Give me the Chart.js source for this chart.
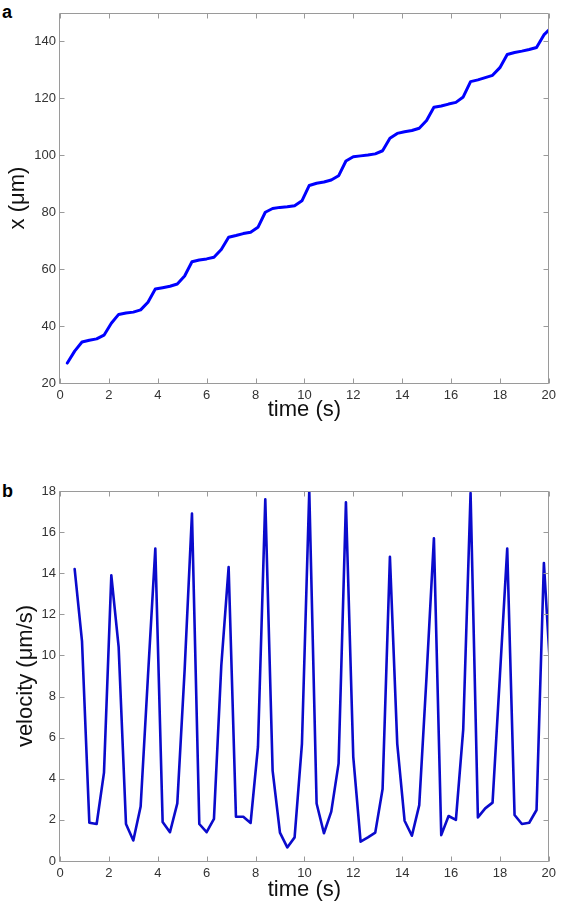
<!DOCTYPE html>
<html>
<head>
<meta charset="utf-8">
<script src="https://cdn.jsdelivr.net/npm/chart.js@4.4.1/dist/chart.umd.min.js"></script>
<style>
  html,body{margin:0;padding:0;background:#fff;}
  body{width:561px;height:903px;position:relative;overflow:hidden;font-family:"Liberation Sans",Arial,sans-serif;}
  .lbl{position:absolute;font:bold 18px "Liberation Sans",Arial,sans-serif;line-height:18px;color:#000;}
  canvas{position:absolute;left:0;}
</style>
</head>
<body>
<div class="lbl" style="left:2px;top:3px;">a</div>
<div class="lbl" style="left:2px;top:482px;">b</div>
<canvas id="c1" width="561" height="430" style="top:0;"></canvas>
<canvas id="c2" width="561" height="433" style="top:470px;"></canvas>
<script>
// ---- data ----
const posTime = [0.3,0.6,0.9,1.2,1.5,1.8,2.1,2.4,2.7,3.0,3.3,3.6,3.9,4.2,4.5,4.8,5.1,5.4,5.7,6.0,6.3,6.6,6.9,7.2,7.5,7.8,8.1,8.4,8.7,9.0,9.3,9.6,9.9,10.2,10.5,10.8,11.1,11.4,11.7,12.0,12.3,12.6,12.9,13.2,13.5,13.8,14.1,14.4,14.7,15.0,15.3,15.6,15.9,16.2,16.5,16.8,17.1,17.4,17.7,18.0,18.3,18.6,18.9,19.2,19.5,19.8,20.1];
const posValues = [27.0,31.2,34.4,35.0,35.5,36.8,41.0,44.1,44.6,44.9,45.7,48.4,53.0,53.5,54.0,54.8,57.6,62.6,63.2,63.6,64.2,66.9,71.2,71.8,72.5,73.0,74.7,80.0,81.3,81.7,81.9,82.3,84.0,89.4,90.2,90.6,91.3,92.8,98.0,99.5,99.8,100.1,100.5,101.6,106.0,107.7,108.3,108.7,109.5,112.2,116.9,117.3,118.0,118.6,120.5,125.9,126.5,127.3,128.1,130.8,135.4,136.1,136.6,137.2,137.9,142.3,144.8];

const velTime = [0.6,0.9,1.2,1.5,1.8,2.1,2.4,2.7,3.0,3.3,3.6,3.9,4.2,4.5,4.8,5.1,5.4,5.7,6.0,6.3,6.6,6.9,7.2,7.5,7.8,8.1,8.4,8.7,9.0,9.3,9.6,9.9,10.2,10.5,10.8,11.1,11.4,11.7,12.0,12.3,12.6,12.9,13.2,13.5,13.8,14.1,14.4,14.7,15.0,15.3,15.6,15.9,16.2,16.5,16.8,17.1,17.4,17.7,18.0,18.3,18.6,18.9,19.2,19.5,19.8,20.1];
const velValues = [14.2,10.7,1.86,1.8,4.3,13.9,10.4,1.8,1.0,2.65,9.0,15.2,1.9,1.4,2.8,9.3,16.9,1.8,1.4,2.05,9.5,14.3,2.15,2.15,1.85,5.55,17.6,4.4,1.38,0.66,1.15,5.7,18.0,2.8,1.35,2.4,4.75,17.45,5.07,0.94,1.15,1.38,3.5,14.8,5.7,1.96,1.23,2.72,9.0,15.7,1.26,2.19,2.0,6.4,17.9,2.12,2.56,2.84,9.0,15.2,2.24,1.8,1.86,2.48,14.5,8.5];

const timeTicks = [0,2,4,6,8,10,12,14,16,18,20];
const posTicks = [20,40,60,80,100,120,140];
const velTicks = [0,2,4,6,8,10,12,14,16,18];

const xTitle = 'time (s)';
const posTitle = 'x (\u03bcm)';
const velTitle = 'velocity (\u03bcm/s)';

// ---- styling ----
const FONT = '"Liberation Sans", Arial, Helvetica, sans-serif';
const BOX = '#9a9a9a';

const boxTicks = {
  id: 'boxTicks',
  afterDatasetsDraw(chart) {
    const {ctx, chartArea: a, scales: {x, y}} = chart;
    ctx.save();
    ctx.strokeStyle = BOX;
    ctx.lineWidth = 1;
    const L = Math.round(a.left) - 0.5, R = Math.round(a.right) - 0.5;
    const T = Math.round(a.top) + 0.5, B = Math.round(a.bottom) + 0.5;
    ctx.beginPath();
    ctx.rect(L, T, R - L, B - T);
    const tl = 5;
    x.ticks.forEach(t => {
      const px = Math.round(x.getPixelForValue(t.value)) + 0.5;
      ctx.moveTo(px, B); ctx.lineTo(px, B - tl);
      ctx.moveTo(px, T); ctx.lineTo(px, T + tl);
    });
    y.ticks.forEach(t => {
      const py = Math.round(y.getPixelForValue(t.value)) + 0.5;
      ctx.moveTo(L, py); ctx.lineTo(L + tl, py);
      ctx.moveTo(R, py); ctx.lineTo(R - tl, py);
    });
    ctx.stroke();
    ctx.restore();
  }
};

function makeChart(id, times, values, ticksY, yMin, yMax, yTitle, opts) {
  const data = times.map((t, i) => ({x: t, y: values[i]}));
  return new Chart(document.getElementById(id), {
    type: 'line',
    data: {datasets: [{
      data,
      borderColor: opts.color,
      borderWidth: opts.lw,
      pointRadius: 0,
      tension: 0,
      fill: false,
      borderJoinStyle: 'round',
      borderCapStyle: 'round'
    }]},
    options: {
      responsive: false,
      animation: false,
      devicePixelRatio: 1,
      events: [],
      layout: {padding: {left: 0, right: 8, top: opts.padTop, bottom: 0}},
      plugins: {legend: {display: false}, tooltip: {enabled: false}, title: {display: false}},
      scales: {
        x: {
          type: 'linear', min: 0, max: 20,
          grid: {display: false, drawTicks: false},
          border: {display: false},
          afterBuildTicks: s => { s.ticks = timeTicks.map(v => ({value: v})); },
          afterFit: s => { s.height = opts.xH; },
          ticks: {color: '#333', font: {family: FONT, size: 13}, padding: 5, maxRotation: 0, autoSkip: false},
          title: {display: true, text: xTitle, color: '#111', font: {family: FONT, size: 22}, padding: {top: 0, bottom: opts.xTitlePad}}
        },
        y: {
          type: 'linear', min: yMin, max: yMax,
          grid: {display: false, drawTicks: false},
          border: {display: false},
          afterBuildTicks: s => { s.ticks = ticksY.map(v => ({value: v})); },
          afterFit: s => { s.width = 60; },
          ticks: {color: '#333', font: {family: FONT, size: 13}, padding: 4, autoSkip: false},
          title: {display: true, text: yTitle, color: '#111', font: {family: FONT, size: 22}, padding: {top: opts.yTitlePad, bottom: 0}}
        }
      }
    },
    plugins: [boxTicks]
  });
}

makeChart('c1', posTime, posValues, posTicks, 20, 150, posTitle,
  {color: '#0000ff', lw: 3, padTop: 13, xH: 47, xTitlePad: 7, yTitlePad: 5});
makeChart('c2', velTime, velValues, velTicks, 0, 18, velTitle,
  {color: '#0b0bcc', lw: 2.6, padTop: 21, xH: 42, xTitlePad: 0, yTitlePad: 13});
</script>
</body>
</html>
